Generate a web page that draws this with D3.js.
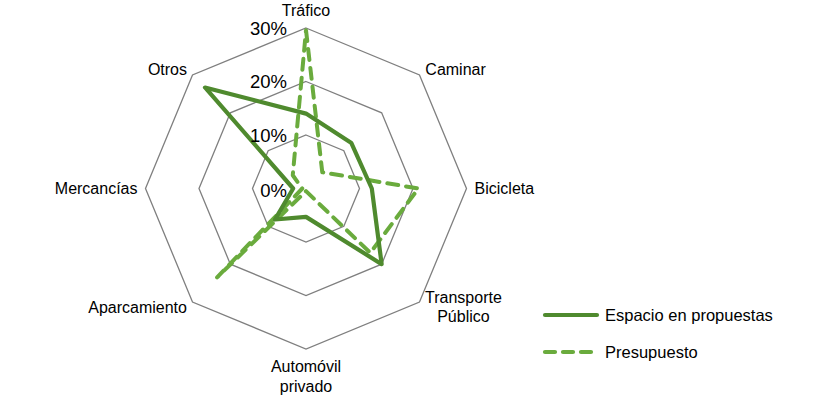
<!DOCTYPE html>
<html>
<head>
<meta charset="utf-8">
<script src="https://cdn.jsdelivr.net/npm/d3@7"></script>
<style>
  html, body { margin: 0; padding: 0; background: #fff; }
  svg { display: block; font-family: "Liberation Sans", Arial, sans-serif; }
</style>
</head>
<body>
<svg id="chart" width="826" height="397"></svg>
<script>
// ---- data ----
const categories = ["Tráfico", "Caminar", "Bicicleta", "Transporte\nPúblico", "Automóvil\nprivado", "Aparcamiento", "Mercancías", "Otros"];
const espacioEnPropuestas = [14, 12, 12.3, 20, 5.3, 8.2, 2.4, 26.7];
const presupuesto = [29.6, 4.3, 21, 17, 0.5, 23.5, 0.7, 3.5];
const tickValues = [0, 10, 20, 30];
const seriesNames = ["Espacio en propuestas", "Presupuesto"];

// ---- layout ----
const svg = d3.select("#chart");
const cx = 306, cy = 188.5, R = 160.5;
const colSolid = "#4f8a2e", colDash = "#6aab3d";

const r = d3.scaleLinear().domain([0, 30]).range([0, R]);
const angle = d3.scaleLinear().domain([0, categories.length]).range([0, 2 * Math.PI]);

const g = svg.append("g").attr("transform", `translate(${cx},${cy})`);

// rings
const ringLine = d3.lineRadial().curve(d3.curveLinearClosed)
  .angle((d, i) => angle(i)).radius(d => r(d));
tickValues.filter(t => t > 0).forEach(t => {
  g.append("path")
    .datum(categories.map(() => t))
    .attr("d", ringLine)
    .attr("fill", "none")
    .attr("stroke", "#7f7f7f")
    .attr("stroke-width", 1.3);
});

// series
const seriesLine = d3.lineRadial().curve(d3.curveLinearClosed)
  .angle((d, i) => angle(i)).radius(d => r(d));

g.append("path").datum(presupuesto)
  .attr("d", seriesLine)
  .attr("fill", "none")
  .attr("stroke", colDash)
  .attr("stroke-width", 4)
  .attr("stroke-dasharray", "11,8")
  .attr("stroke-linecap", "round")
  .attr("stroke-linejoin", "round");

g.append("path").datum(espacioEnPropuestas)
  .attr("d", seriesLine)
  .attr("fill", "none")
  .attr("stroke", colSolid)
  .attr("stroke-width", 4.2)
  .attr("stroke-linejoin", "round");

// tick labels
g.selectAll("text.tick").data(tickValues).enter().append("text")
  .attr("class", "tick")
  .attr("x", -19)
  .attr("y", d => d === 0 ? 2 : -r(d))
  .attr("dy", "0.36em")
  .attr("text-anchor", "end")
  .attr("font-size", 18.5)
  .attr("fill", "#000")
  .text(d => d + "%");

// category labels
categories.forEach((c, i) => {
  const a = angle(i);
  const s = Math.sin(a), co = Math.cos(a);
  const vx = r(30) * s, vy = -r(30) * co;
  const lines = c.split("\n");
  const t = g.append("text")
    .attr("font-size", 16)
    .attr("fill", "#000")
    .attr("text-anchor", "middle");
  lines.forEach((ln, k) => {
    t.append("tspan").attr("x", 0).attr("dy", k === 0 ? 0 : 19.5).text(ln);
  });
  const w = t.node().getBBox().width;
  let x, y;
  if (Math.abs(s) < 0.01) {
    x = vx;
    y = co > 0 ? vy - 12 : vy + 23;
  } else if (Math.abs(co) < 0.01) {
    x = s > 0 ? vx + 8 + w / 2 : vx - 8 - w / 2;
    y = vy + 5;
  } else {
    x = s > 0 ? vx + 5.5 + w / 2 : vx - 5.5 - w / 2;
    y = co > 0 ? vy : vy + (lines.length > 1 ? 1 : 11);
  }
  t.attr("transform", `translate(${x},${y})`);
});

// legend
const legend = svg.append("g");
const legendItems = [
  { name: seriesNames[0], color: colSolid, dash: null, y: 315 },
  { name: seriesNames[1], color: colDash, dash: "10,8", y: 352 }
];
legendItems.forEach(it => {
  legend.append("line")
    .attr("x1", 545).attr("x2", 597)
    .attr("y1", it.y).attr("y2", it.y)
    .attr("stroke", it.color)
    .attr("stroke-width", 4.2)
    .attr("stroke-linecap", "round")
    .attr("stroke-dasharray", it.dash);
  legend.append("text")
    .attr("x", 605).attr("y", it.y)
    .attr("dy", "0.35em")
    .attr("font-size", 16.5)
    .attr("fill", "#000")
    .text(it.name);
});
</script>
</body>
</html>
